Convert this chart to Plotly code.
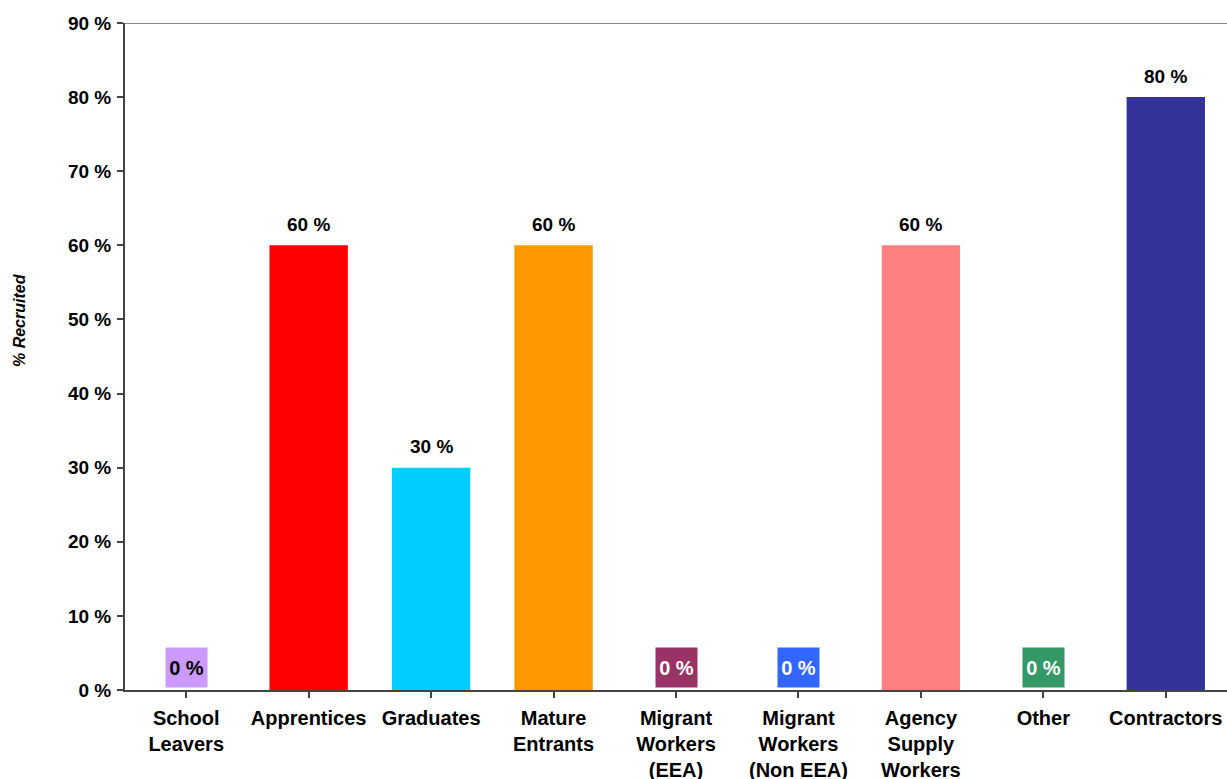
import plotly.graph_objects as go

# Recruitment sources and share recruited (%)
categories = [
    "School<br>Leavers",
    "Apprentices",
    "Graduates",
    "Mature<br>Entrants",
    "Migrant<br>Workers<br>(EEA)",
    "Migrant<br>Workers<br>(Non EEA)",
    "Agency<br>Supply<br>Workers",
    "Other",
    "Contractors",
]
recruited = [0, 60, 30, 60, 0, 0, 60, 0, 80]
bar_colors = ["#CC99FF", "#FF0000", "#00CCFF", "#FF9900", "#993366",
              "#3366FF", "#FF8080", "#339966", "#333399"]
zero_label_font = ["#000000", "#000000", "#000000", "#000000", "#FFFFFF",
                   "#FFFFFF", "#000000", "#FFFFFF", "#FFFFFF"]
y_ticks = list(range(0, 100, 10))

FONT = "Liberation Sans, Arial, Helvetica, sans-serif"

fig = go.Figure()
fig.add_trace(go.Bar(
    x=list(range(len(categories))),
    y=recruited,
    marker=dict(color=bar_colors, line=dict(width=0)),
    width=0.64,
    hoverinfo="skip",
))

annotations = []
for i, v in enumerate(recruited):
    label = f"<b>{v} %</b>"
    if v == 0:
        annotations.append(dict(
            x=i, y=0, xref="x", yref="y", text=label, showarrow=False,
            xanchor="center", yanchor="bottom", yshift=2,
            width=41, height=39, borderpad=0,
            bgcolor=bar_colors[i],
            font=dict(family=FONT, size=20, color=zero_label_font[i]),
        ))
    else:
        annotations.append(dict(
            x=i, y=v, xref="x", yref="y", text=label, showarrow=False,
            xanchor="center", yanchor="middle", yshift=21,
            font=dict(family=FONT, size=19, color="#000000"),
        ))

# Vertical axis title
annotations.append(dict(
    x=-106 / 1102, y=(690 - 320) / 667, xref="paper", yref="paper",
    text="<b><i>% Recruited</i></b>", textangle=-90, showarrow=False,
    xanchor="center", yanchor="middle",
    font=dict(family=FONT, size=16, color="#000000"),
))

fig.update_layout(
    width=1227, height=779,
    margin=dict(l=125, r=0, t=23, b=89),
    paper_bgcolor="white", plot_bgcolor="white",
    showlegend=False,
    bargap=0.36,
    annotations=annotations,
    shapes=[dict(type="line", xref="paper", yref="y", x0=0, x1=1, y0=90, y1=90,
                 line=dict(color="#888888", width=2))],
    font=dict(family=FONT, color="#000000"),
)

fig.update_xaxes(
    range=[-0.5, len(categories) - 0.5],
    tickmode="array",
    tickvals=list(range(len(categories))),
    ticktext=[f"<b>{c}</b>" for c in categories],
    tickson="boundaries",
    ticks="outside", ticklen=6, tickwidth=1.5, tickcolor="#444444",
    showline=True, linecolor="#444444", linewidth=2,
    showgrid=False, zeroline=False,
    tickfont=dict(family=FONT, size=20, color="#000000"),
    ticklabelstandoff=3,
    tickangle=0,
    automargin=False,
)
fig.update_yaxes(
    range=[0, 90],
    tickmode="array",
    tickvals=y_ticks,
    ticktext=[f"<b>{t} %</b>" for t in y_ticks],
    ticks="outside", ticklen=6, tickwidth=1.5, tickcolor="#444444",
    showline=True, linecolor="#444444", linewidth=2,
    showgrid=False, zeroline=False,
    tickfont=dict(family=FONT, size=19, color="#000000"),
    ticklabelstandoff=2,
    automargin=False,
)

fig.write_html("out.html")
